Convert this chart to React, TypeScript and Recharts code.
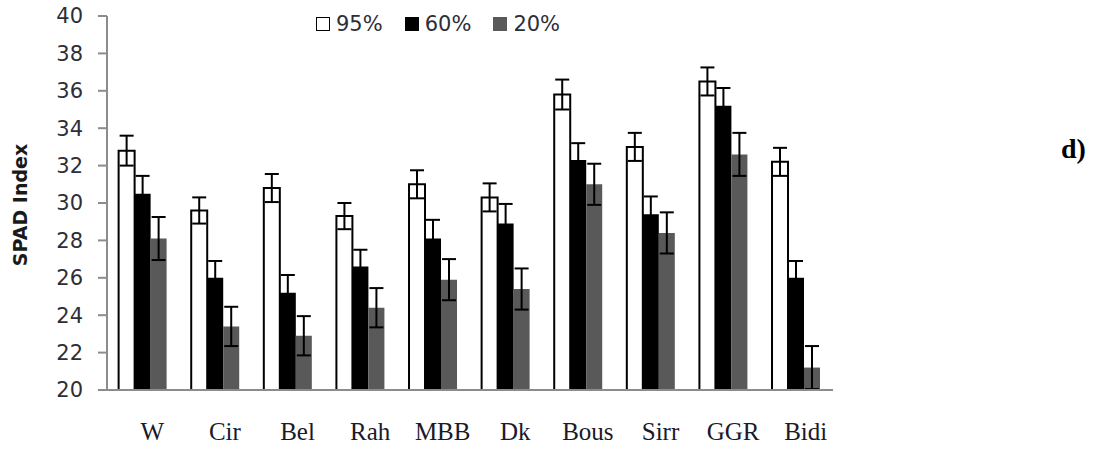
import React from "react";
import { BarChart, Bar, ErrorBar, XAxis, YAxis } from "recharts";

// SPAD readings per cultivar under three water regimes (mean ± error)
const cultivars = ["W", "Cir", "Bel", "Rah", "MBB", "Dk", "Bous", "Sirr", "GGR", "Bidi"];
const spad95 = [32.8, 29.6, 30.8, 29.3, 31.0, 30.3, 35.8, 33.0, 36.5, 32.2];
const spad60 = [30.5, 26.0, 25.2, 26.6, 28.1, 28.9, 32.3, 29.4, 35.2, 26.0];
const spad20 = [28.1, 23.4, 22.9, 24.4, 25.9, 25.4, 31.0, 28.4, 32.6, 21.2];
const err95 = [0.8, 0.7, 0.75, 0.7, 0.75, 0.75, 0.8, 0.75, 0.75, 0.75];
const err60 = [0.95, 0.9, 0.95, 0.9, 1.0, 1.05, 0.9, 0.95, 0.95, 0.9];
const err20 = [1.15, 1.05, 1.05, 1.05, 1.1, 1.1, 1.1, 1.1, 1.15, 1.15];
const yTicks = [20, 22, 24, 26, 28, 30, 32, 34, 36, 38, 40];

const legendItems = [
  { label: "95%", fill: "#ffffff", border: "#000000" },
  { label: "60%", fill: "#000000", border: "#000000" },
  { label: "20%", fill: "#595959", border: "#595959" },
];

const data = cultivars.map((name, i) => ({
  name,
  p95: spad95[i],
  p60: spad60[i],
  p20: spad20[i],
  e95: err95[i],
  e60: err60[i],
  e20: err20[i],
}));

const AXIS_GREY = "#8c8c8c";
const TEXT = "#2e2e38";

function CultivarTick(props: any) {
  const { x, y, payload } = props;
  return (
    <text
      x={x + 9}
      y={y + 50}
      textAnchor="middle"
      fontFamily="'Liberation Serif', serif"
      fontSize={25}
      fill="#1a1a2a"
    >
      {payload.value}
    </text>
  );
}

export default function App() {
  return (
    <div
      style={{
        position: "absolute",
        left: 0,
        top: 0,
        width: 1095,
        height: 449,
        background: "#fff",
        fontFamily: "'DejaVu Sans', sans-serif",
      }}
    >
      <BarChart
        width={1095}
        height={449}
        data={data}
        margin={{ top: 16, right: 262, bottom: 0, left: 0 }}
        barCategoryGap="16%"
        barGap={0}
      >
        <XAxis
          dataKey="name"
          height={59}
          axisLine={{ stroke: AXIS_GREY, strokeWidth: 2 }}
          tickLine={false}
          tickSize={0}
          tickMargin={0}
          interval={0}
          tick={<CultivarTick />}
        />
        <YAxis
          width={107}
          domain={[20, 40]}
          ticks={yTicks}
          interval={0}
          allowDataOverflow
          axisLine={{ stroke: AXIS_GREY, strokeWidth: 2 }}
          tickLine={{ stroke: AXIS_GREY, strokeWidth: 2 }}
          tickSize={9}
          tickMargin={15}
          tick={{ fontSize: 21, fill: TEXT, fontFamily: "'DejaVu Sans', sans-serif" }}
          label={{
            content: (p: any) => {
              const vb = p.viewBox;
              const cx = 20;
              const cy = vb.y + vb.height / 2 + 2;
              return (
                <text
                  x={cx}
                  y={cy}
                  transform={`rotate(-90 ${cx} ${cy})`}
                  textAnchor="middle"
                  dominantBaseline="central"
                  fontFamily="'DejaVu Sans', sans-serif"
                  fontWeight="bold"
                  fontSize={19}
                  fill="#1a1a1a"
                >
                  SPAD Index
                </text>
              );
            },
          }}
        />
        <Bar dataKey="p95" fill="#ffffff" stroke="#000000" strokeWidth={2} isAnimationActive={false}>
          <ErrorBar dataKey="e95" width={7} stroke="#000000" strokeWidth={2} isAnimationActive={false} />
        </Bar>
        <Bar dataKey="p60" fill="#000000" isAnimationActive={false}>
          <ErrorBar dataKey="e60" width={7} stroke="#000000" strokeWidth={2} isAnimationActive={false} />
        </Bar>
        <Bar dataKey="p20" fill="#595959" isAnimationActive={false}>
          <ErrorBar dataKey="e20" width={7} stroke="#000000" strokeWidth={2} isAnimationActive={false} />
        </Bar>
      </BarChart>

      <div
        style={{
          position: "absolute",
          left: 316,
          top: 12,
          display: "flex",
          alignItems: "center",
          fontSize: 21,
          color: TEXT,
          lineHeight: "24px",
        }}
      >
        {legendItems.map((it) => (
          <div key={it.label} style={{ display: "flex", alignItems: "center", marginRight: 22 }}>
            <span
              style={{
                display: "inline-block",
                width: it.fill === "#ffffff" ? 12 : 14,
                height: it.fill === "#ffffff" ? 12 : 14,
                background: it.fill,
                border: it.fill === "#ffffff" ? `1.5px solid ${it.border}` : "none",
                marginRight: 6,
              }}
            />
            <span>{it.label}</span>
          </div>
        ))}
      </div>

      <div
        style={{
          position: "absolute",
          left: 1061,
          top: 133,
          fontFamily: "'Liberation Serif', serif",
          fontWeight: "bold",
          fontSize: 28,
          color: "#000",
        }}
      >
        d)
      </div>
    </div>
  );
}
